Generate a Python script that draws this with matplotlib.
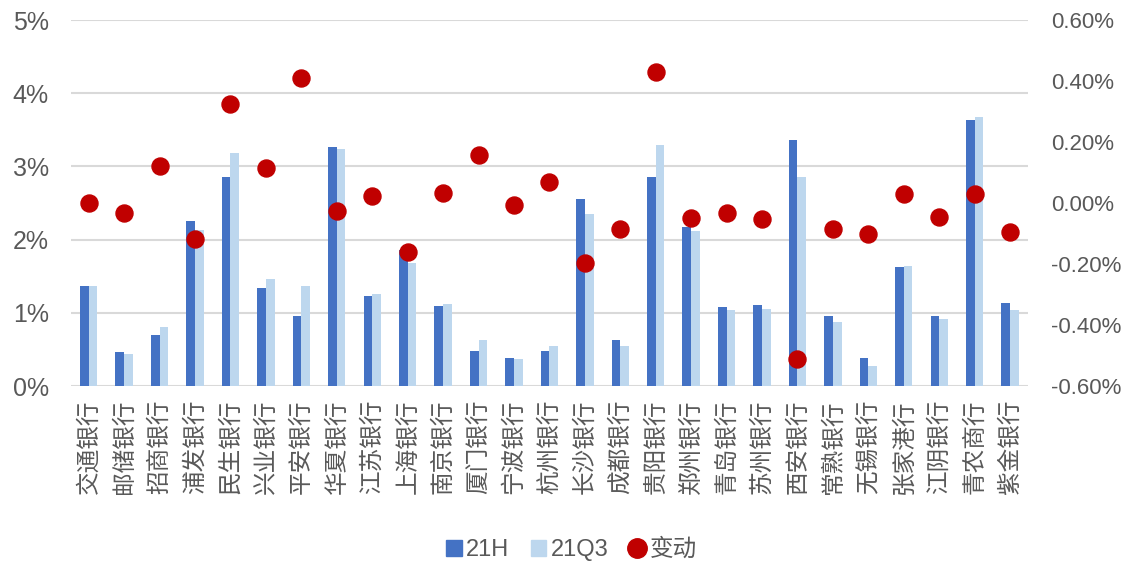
import matplotlib
matplotlib.use("Agg")
import matplotlib.pyplot as plt
import numpy as np
from matplotlib.lines import Line2D
from matplotlib.patches import Patch

banks = ["交通银行", "邮储银行", "招商银行", "浦发银行", "民生银行", "兴业银行", "平安银行",
         "华夏银行", "江苏银行", "上海银行", "南京银行", "厦门银行", "宁波银行", "杭州银行",
         "长沙银行", "成都银行", "贵阳银行", "郑州银行", "青岛银行", "苏州银行", "西安银行",
         "常熟银行", "无锡银行", "张家港行", "江阴银行", "青农商行", "紫金银行"]

h21 = [1.37, 0.47, 0.69, 2.25, 2.85, 1.34, 0.95, 3.27, 1.23, 1.86, 1.09,
       0.48, 0.38, 0.48, 2.55, 0.63, 2.86, 2.17, 1.08, 1.10, 3.36,
       0.96, 0.38, 1.62, 0.96, 3.64, 1.13]
q321 = [1.37, 0.44, 0.81, 2.13, 3.18, 1.46, 1.36, 3.24, 1.26, 1.68, 1.12,
        0.63, 0.37, 0.55, 2.35, 0.55, 3.29, 2.12, 1.04, 1.05, 2.85,
        0.87, 0.27, 1.64, 0.91, 3.67, 1.04]
change = [0.00, -0.033, 0.12, -0.117, 0.326, 0.116, 0.41, -0.025, 0.024, -0.159, 0.032,
          0.156, -0.008, 0.07, -0.196, -0.084, 0.431, -0.049, -0.032, -0.051, -0.511,
          -0.084, -0.102, 0.031, -0.045, 0.031, -0.094]

left_ticks = [0, 1, 2, 3, 4, 5]
right_ticks = [-0.6, -0.4, -0.2, 0.0, 0.2, 0.4, 0.6]

c_h = "#4472C4"
c_q = "#BDD7EE"
c_d = "#C00000"
tick_col = "#595959"

plt.rcParams['font.family'] = ['Liberation Sans', 'Noto Sans CJK SC', 'DejaVu Sans']

fig = plt.figure(figsize=(11.32, 5.65), dpi=100)
ax = fig.add_axes([0.0627, 0.3168, 0.8453, 0.6478])
n = len(banks)
x = np.arange(n)
w = 0.245
ax.bar(x - w / 2, h21, width=w, color=c_h, zorder=2)
ax.bar(x + w / 2, q321, width=w, color=c_q, zorder=2)
ax.set_xlim(-0.5, n - 0.5)
ax.set_ylim(0, 5)
ax.set_yticks(left_ticks)
ax.set_yticklabels([f"{t}%" for t in left_ticks], fontsize=18, color=tick_col)
ax.yaxis.grid(True, color="#D9D9D9", linewidth=1.5, zorder=0)
ax.set_axisbelow(True)
ax.set_xticks(x)
ax.set_xticklabels(banks, rotation=90, fontsize=17, color=tick_col,
                   family=['Noto Sans CJK SC', 'DejaVu Sans'], va='top', ha='center')
ax.tick_params(axis='both', length=0)
ax.tick_params(axis='y', pad=16)
ax.tick_params(axis='x', pad=10)
for s in ax.spines.values():
    s.set_visible(False)

ax2 = ax.twinx()
ax2.scatter(x, change, s=150, color=c_d, zorder=3)
ax2.set_ylim(-0.6, 0.6)
ax2.set_yticks(right_ticks)
ax2.set_yticklabels([f"{t:.2f}%" for t in right_ticks], fontsize=16, color=tick_col)
ax2.tick_params(axis='y', length=0, pad=17)
for s in ax2.spines.values():
    s.set_visible(False)

handles = [Patch(color=c_h, label="21H"), Patch(color=c_q, label="21Q3"),
           Line2D([], [], marker='o', linestyle='none', color=c_d, markersize=14, label="变动")]
leg = fig.legend(handles=handles, loc='center', bbox_to_anchor=(0.505, 0.027), ncol=3,
                 frameon=False, handlelength=0.65, handleheight=0.65,
                 handletextpad=0.2, columnspacing=0.9,
                 prop={'family': ['Liberation Sans', 'Noto Sans CJK SC'], 'size': 17})
for t in leg.get_texts():
    t.set_color(tick_col)

fig.savefig("out.png", dpi=100)
